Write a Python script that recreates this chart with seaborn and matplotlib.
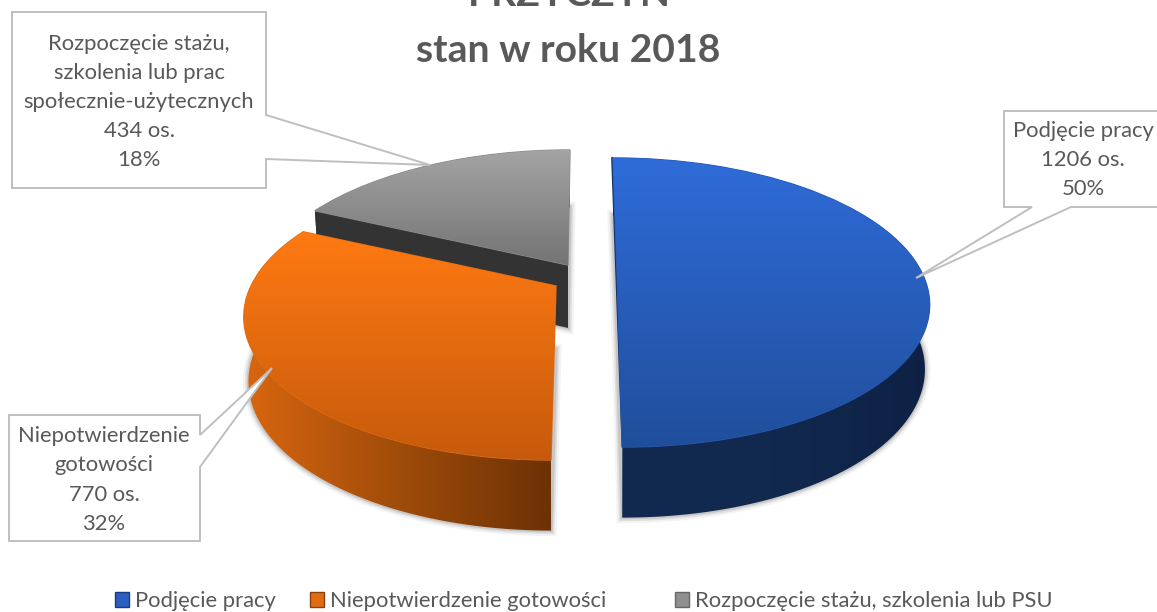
import numpy as np
import matplotlib
matplotlib.use("Agg")
import matplotlib.pyplot as plt
import seaborn as sns
from matplotlib.patches import Patch, PathPatch, Polygon
from matplotlib.path import Path
from matplotlib.transforms import Transform

# =========================================
# DATA
# =========================================

categories = ["Podjęcie pracy", "Niepotwierdzenie gotowości", "Rozpoczęcie stażu, szkolenia lub PSU"]
callout_names = ["Podjęcie pracy", "Niepotwierdzenie\ngotowości", "Rozpoczęcie stażu,\nszkolenia lub prac\nspołecznie-użytecznych"]
counts = [1206, 770, 434]
percents = [50, 32, 18]

title_lines = ["PRZYCZYN", "stan w roku 2018"]

# =========================================
# STYLE
# =========================================

face_colors = [["#2f6cd9", "#204e9b"], ["#ff7a12", "#c65a0c"], ["#a4a4a4", "#747474"]]
wall_colors = [["#12294f", "#12294f", "#0e2145"], ["#d9660f", "#a04c0a", "#6c3105"], ["#333333", "#333333"]]
edge_colors = ["#2558b5", "#e06c14", "#8c8c8c"]
legend_colors = ["#2a5fbf", "#e06c14", "#8f8f8f"]
legend_edges = ["#1a3c78", "#8a4208", "#666666"]
legend_x = [115, 310, 675]
text_color = "#595959"
line_color = "#bfbfbf"

# slice placement in pixels, one per category
centers = [(617, 273), (556, 286), (568, 265)]
leans = [-5, 3.2, 2.4]
RX, RY, TILT, DEPTH = 305, 138.5, 0.204, 63
SHRINK = 0.985

callouts = [
    [(1004, 111), (1162, 111), (1162, 207), (1071, 207), (916, 278), (1032, 207), (1004, 207)],
    [(9, 415), (200, 415), (200, 435), (272, 368), (200, 467), (200, 541), (9, 541)],
    [(12, 12), (266, 12), (266, 115), (430, 165), (266, 159), (266, 188), (12, 188)],
]
callout_text_pos = [(1083, 160), (104, 480), (139, 102)]

sns.set_theme(style="white")
plt.rcParams["font.family"] = ["Lato", "DejaVu Sans"]


class TiltedSlice(Transform):
    # maps the unit pie onto the tilted plane of the 3D look
    input_dims = 2
    output_dims = 2

    def __init__(self, center, lean, drop=0):
        super().__init__()
        self.center = center
        self.lean = lean
        self.drop = drop

    def transform_non_affine(self, values):
        values = np.asarray(values, dtype=float)
        u, v = values[:, 0], values[:, 1]
        w = 1 + TILT * v
        scale = SHRINK if self.drop else 1
        x = self.center[0] + scale * (RX * u + self.lean * v) / w
        y = self.center[1] - RY * v / w + self.drop / np.sqrt(w)
        return np.column_stack([x, y])

    def transform_path_non_affine(self, path):
        return Path(self.transform_non_affine(path.vertices), path.codes)


def gradient_fill(ax, clip, points, colors, horizontal, zorder):
    # gradient image cut to the shape of a patch
    cmap = sns.blend_palette(colors, as_cmap=True)
    ramp = np.linspace(0, 1, 256)
    ramp = ramp[None, :] if horizontal else ramp[:, None]
    extent = (points[:, 0].min(), points[:, 0].max(), points[:, 1].max(), points[:, 1].min())
    image = ax.imshow(ramp, cmap=cmap, extent=extent, aspect="auto", zorder=zorder, vmin=0, vmax=1)
    image.set_clip_path(clip)


# =========================================
# PIE
# =========================================

fig = plt.figure(figsize=(11.57, 6.12), dpi=100)
ax = fig.add_axes([0, 0, 1, 1])

wedges = ax.pie(counts, startangle=90, counterclock=False)[0]

# far slice first so the nearer ones cover it
for z, i in enumerate([2, 0, 1]):
    wedge = wedges[i]
    base = z * 10 + 1
    top = TiltedSlice(centers[i], leans[i])
    bottom = TiltedSlice(centers[i], leans[i], DEPTH)

    # soft shadow around the bottom face
    for lw, alpha in [(8, 0.07), (5, 0.12), (2.5, 0.18)]:
        ax.add_patch(PathPatch(wedge.get_path(), transform=bottom + ax.transData, fill=False,
                               ec="#555555", lw=lw, alpha=alpha, zorder=base))

    angles = np.radians(np.linspace(wedge.theta1, wedge.theta2, 180))
    arc = np.column_stack([np.cos(angles), np.sin(angles)])

    # outer side wall
    wall_xy = np.vstack([top.transform(arc), bottom.transform(arc[::-1])])
    wall = Polygon(wall_xy, closed=True, transform=ax.transData, fc="none", ec="none", zorder=base + 1)
    ax.add_patch(wall)
    gradient_fill(ax, wall, wall_xy, wall_colors[i], True, base + 1)

    # cut wall facing the viewer (only the grey slice shows it)
    if i == 2:
        cut = np.vstack([[[0, 0]], arc[-1:]])
        cut_xy = np.vstack([top.transform(cut), bottom.transform(cut[::-1])])
        ax.add_patch(Polygon(cut_xy, closed=True, transform=ax.transData, fc="#333333", ec="none", zorder=base + 2))

    # thin dark sliver along the straight edge of the blue slice
    if i == 0:
        sliver = top.transform(np.array([[0.0, 1.0], [0.0, -1.0]]))
        ax.plot(sliver[:, 0] - 0.6, sliver[:, 1], color="#14305f", lw=1.6, zorder=base + 2)

    # top face
    wedge.set_transform(top + ax.transData)
    wedge.set(facecolor=face_colors[i][1], edgecolor=edge_colors[i], linewidth=1.0, zorder=base + 3)
    gradient_fill(ax, wedge, top.transform(np.vstack([arc, [[0, 0]]])), face_colors[i], False, base + 4)

# =========================================
# CALLOUTS
# =========================================

for i, shape in enumerate(callouts):
    ax.add_patch(Polygon(shape, closed=True, fc="white", ec=line_color, lw=1.4, zorder=50))
    label = f"{callout_names[i]}\n{counts[i]} os.\n{percents[i]}%"
    ax.text(callout_text_pos[i][0], callout_text_pos[i][1], label, ha="center", va="center",
            fontsize=15.8, color=text_color, linespacing=1.57, zorder=51)

# =========================================
# TITLE AND LEGEND
# =========================================

ax.text(568, 50, title_lines[1], ha="center", va="center", fontsize=28.2,
        fontweight="bold", color=text_color, zorder=51)
ax.text(569, -5, title_lines[0], ha="center", va="center", fontsize=28.2,
        fontweight="bold", color=text_color, zorder=51)

# one legend per entry, the gaps between them are uneven
for i, name in enumerate(categories):
    handle = Patch(facecolor=legend_colors[i], edgecolor=legend_edges[i], label=name)
    fig.legend(handles=[handle], loc="lower left", bbox_to_anchor=(legend_x[i] / 1157, 0.001), frameon=False,
               fontsize=15.8, labelcolor=text_color, handlelength=0.65, handleheight=0.65, handletextpad=0.25,
               borderpad=0, borderaxespad=0)

ax.set_aspect("auto")
ax.set_xlim(0, 1157)
ax.set_ylim(612, 0)
ax.axis("off")

plt.savefig("out.png", dpi=100)
